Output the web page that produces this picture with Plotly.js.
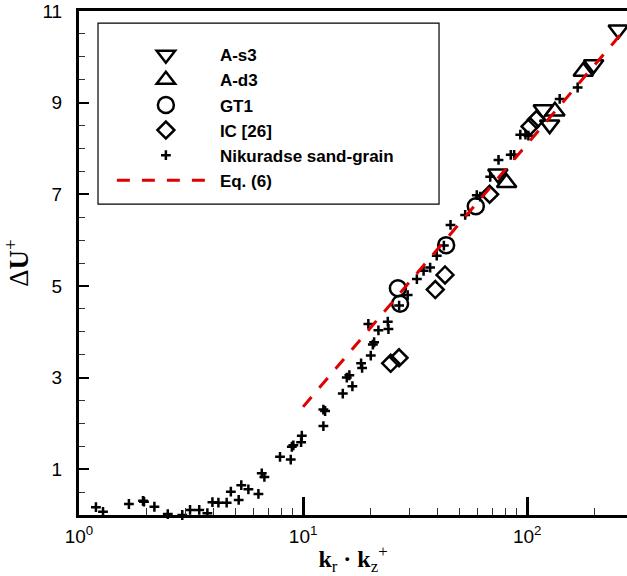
<!DOCTYPE html>
<html>
<head>
<meta charset="utf-8">
<script src="https://cdn.plot.ly/plotly-3.0.1.min.js"></script>
<style>
html,body{margin:0;padding:0;background:#fff;}
#chart{width:627px;height:576px;}
</style>
</head>
<body>
<div id="chart"></div>
<script>
// ---- data ----
var as3X = [74, 118, 126, 198, 255];
var as3Y = [7.45, 8.85, 8.52, 9.83, 10.59];

var ad3X = [81, 133, 178];
var ad3Y = [7.25, 8.81, 9.68];

var gt1X = [26.5, 27.1, 43.5, 59];
var gt1Y = [4.95, 4.61, 5.89, 6.74];

var icX = [24.6, 26.8, 38.9, 43, 68, 103, 110];
var icY = [3.31, 3.43, 4.92, 5.24, 7.00, 8.48, 8.63];

var nikX = [1.19, 1.28, 1.67, 1.93, 1.95, 2.17, 2.49, 2.89, 3.13, 3.44, 3.74, 3.94, 4.19, 4.56,
            4.76, 5.16, 5.30, 5.70, 6.32, 6.54, 6.72, 7.89, 8.81, 8.91, 9.05, 9.80, 9.87,
            12.32, 12.54, 12.32, 15.04, 15.67, 16.09, 16.60, 18.15, 18.34, 20.05, 20.48, 20.75,
            19.56, 21.69, 23.88, 24.04, 26.83, 29.3, 32.2, 34.5, 36.9, 39.5, 42.5, 45.5, 52.9,
            59.6, 61.7, 68.4, 74.5, 84.5, 87.5, 93.2, 98.3, 101.3, 139.7, 168];
var nikY = [0.17, 0.07, 0.24, 0.31, 0.29, 0.18, 0.02, 0.0, 0.11, 0.11, 0.04, 0.28, 0.27, 0.27,
            0.51, 0.33, 0.65, 0.56, 0.46, 0.91, 0.83, 1.27, 1.21, 1.49, 1.52, 1.59, 1.73,
            2.30, 2.27, 1.94, 2.65, 3.00, 3.05, 2.81, 3.31, 3.21, 3.48, 3.72, 3.77,
            4.17, 4.03, 4.22, 4.06, 4.57, 4.80, 5.15, 5.33, 5.40, 5.66, 5.88, 6.33, 6.55,
            6.98, 6.95, 7.38, 7.75, 7.86, 7.86, 8.30, 8.30, 8.28, 9.08, 9.33];

var eqX = [10, 280];
var eqY = [2.36, 10.66];

var xTickVals = [1, 10, 100];
var xTickText = ['10<sup>0</sup>', '10<sup>1</sup>', '10<sup>2</sup>'];
var xMinorVals = [2, 3, 4, 5, 6, 7, 8, 9, 20, 30, 40, 50, 60, 70, 80, 90, 200];
var yTickVals = [1, 3, 5, 7, 9, 11];

// ---- traces ----
function mk(x, y, name, symbol, size) {
  return {
    type: 'scatter', mode: 'markers', x: x, y: y, name: name, cliponaxis: false,
    marker: {symbol: symbol, size: size, color: '#000',
             line: {color: '#000', width: 2.5}}
  };
}
var traces = [
  mk(as3X, as3Y, 'A-s3', 'triangle-down-open', 17),
  mk(ad3X, ad3Y, 'A-d3', 'triangle-up-open', 17),
  mk(gt1X, gt1Y, 'GT1', 'circle-open', 16),
  mk(icX, icY, 'IC [26]', 'diamond-open', 13),
  mk(nikX, nikY, 'Nikuradse sand-grain', 'cross-thin-open', 7),
  {type: 'scatter', mode: 'lines', x: eqX, y: eqY, name: 'Eq. (6)',
   line: {color: '#e00000', width: 3, dash: '13px,12px'}}
];

var tickFont = {family: 'Liberation Sans, Arial, sans-serif', size: 19, color: '#000'};

var layout = {
  width: 627, height: 576,
  margin: {l: 79, r: 0, t: 11, b: 61},
  paper_bgcolor: '#fff', plot_bgcolor: '#fff',
  showlegend: true,
  xaxis: {
    type: 'log', range: [0, Math.log10(279)],
    tickmode: 'array', tickvals: xTickVals, ticktext: xTickText,
    ticks: 'inside', ticklen: 18, tickwidth: 3, tickcolor: '#000',
    minor: {tickmode: 'array', tickvals: xMinorVals, ticks: 'inside', ticklen: 7, tickwidth: 1, tickcolor: '#333', showgrid: false},
    showline: true, linewidth: 3, linecolor: '#000', mirror: true,
    showgrid: false, zeroline: false,
    tickfont: tickFont, ticklabelstandoff: 2,
    title: {text: '<b>k</b><sub>r</sub> <b>·</b> <b>k</b><sub>z</sub><sup>+</sup>',
            font: {family: 'Liberation Serif, Times New Roman, serif', size: 24, color: '#000'},
            standoff: 6}
  },
  yaxis: {
    range: [0, 11],
    tickmode: 'array', tickvals: yTickVals,
    ticks: 'inside', ticklen: 10, tickwidth: 2, tickcolor: '#000',
    minor: {dtick: 0.5, ticks: 'inside', ticklen: 6, tickwidth: 1, tickcolor: '#333', showgrid: false},
    showline: true, linewidth: 3, linecolor: '#000', mirror: false,
    showgrid: false, zeroline: false,
    tickfont: tickFont, ticklabelstandoff: 10,
    title: {text: 'Δ<b>U</b><sup>+</sup>',
            font: {family: 'Liberation Serif, Times New Roman, serif', size: 27, color: '#000'},
            standoff: 8}
  },
  legend: {
    x: 0.06, y: 0.948, xanchor: 'left', yanchor: 'top',
    bgcolor: 'rgba(0,0,0,0)', borderwidth: 0,
    itemwidth: 98,
    font: {family: 'Liberation Sans, Arial, sans-serif', size: 17, color: '#000', weight: 'bold'},
    tracegroupgap: 0
  },
  shapes: [{
    type: 'rect', xref: 'paper', yref: 'paper',
    x0: 0.0347, x1: 0.657, y0: 0.617, y1: 0.976,
    line: {color: '#000', width: 1.2}, fillcolor: 'rgba(0,0,0,0)'
  }]
};

Plotly.newPlot('chart', traces, layout, {displayModeBar: false, staticPlot: true});
</script>
</body>
</html>
